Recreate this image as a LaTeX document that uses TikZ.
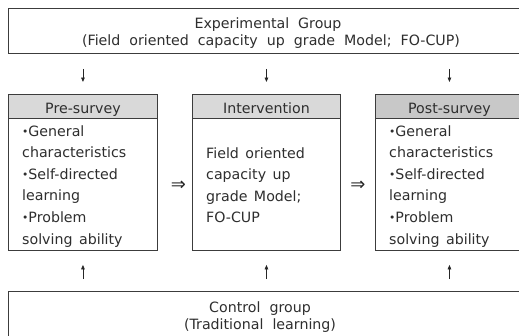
\documentclass[tikz,border=0pt]{standalone}
\usepackage{fontspec}
\setmainfont{DejaVu Sans}
\usetikzlibrary{arrows.meta}
\definecolor{linec}{HTML}{3C3C3C}
\definecolor{txtc}{HTML}{2E2E2E}
\definecolor{hdrA}{HTML}{D9D9D9}
\definecolor{hdrB}{HTML}{C8C8C8}
\newcommand{\bodyfont}{\fontsize{14.2}{21.6}\selectfont\spaceskip=6.5pt plus 1pt minus 1pt\relax}
\newcommand{\groupfont}{\fontsize{14.2}{17.8}\selectfont\spaceskip=9pt plus 1pt minus 1pt\relax}
\newcommand{\bul}{\raisebox{0.6pt}{\scalebox{0.75}{•}}}
\begin{document}
\begin{tikzpicture}[x=1pt,y=-1pt,
  frame/.style={draw=linec, line width=0.9pt, inner sep=0pt, anchor=north west, fill=white},
  hdr/.style={draw=linec, line width=0.9pt, inner sep=0pt, anchor=north west, minimum width=149pt, minimum height=24pt, text height=14pt, text depth=0pt, text=txtc, font=\bodyfont},
  body/.style={inner sep=0pt, anchor=base west, text=txtc, font=\bodyfont},
  grp/.style={inner sep=0pt, anchor=base, text=txtc, font=\groupfont},
  arr/.style={draw=black!85, line width=0.8pt, -{Triangle[length=4.5pt,width=3.6pt]}},
  dblglyph/.style={inner sep=0pt, text=black!85, font=\fontsize{18}{18}\selectfont}
]
\useasboundingbox (0,0) rectangle (519,335);
\clip (0,0) rectangle (519,335);

% group boxes
\node[frame, minimum width=540pt, minimum height=45pt] (top) at (8,8) {};
\node[grp] (toptxt) at (269,28) {\begin{tabular}[t]{@{}c@{}}Experimental Group\hspace*{2pt}\\\hspace*{4pt}(Field oriented capacity up grade Model; FO-CUP)\end{tabular}};

\node[frame, minimum width=540pt, minimum height=60pt] (bot) at (8,291) {};
\node[grp] (bottxt) at (260,312) {\begin{tabular}[t]{@{}c@{}}Control group\\(Traditional learning)\end{tabular}};

% stage boxes
\node[frame, minimum width=149pt, minimum height=156pt] (pre) at (8,94) {};
\node[hdr, fill=hdrA] (prehdr) at (8,94) {Pre-survey};
\node[body] (pretxt) at (22,136) {\begin{tabular}[t]{@{}l@{}}\bul General\\characteristics\\\bul Self-directed\\learning\\\bul Problem\\solving ability\end{tabular}};

\node[frame, minimum width=148pt, minimum height=156pt] (int) at (192,94) {};
\node[hdr, fill=hdrA, minimum width=148pt] (inthdr) at (192,94) {Intervention};
\node[body] (inttxt) at (206,158) {\begin{tabular}[t]{@{}l@{}}Field oriented\\capacity up\\grade Model;\\FO-CUP\end{tabular}};

\node[frame, minimum width=148pt, minimum height=156pt] (post) at (375,94) {};
\node[hdr, fill=hdrB, minimum width=148pt] (posthdr) at (375,94) {Post-survey};
\node[body] (posttxt) at (389,136) {\begin{tabular}[t]{@{}l@{}}\bul General\\characteristics\\\bul Self-directed\\learning\\\bul Problem\\solving ability\end{tabular}};

% down / up arrows
\foreach \b in {pre,int,post}{
  \draw[arr, shorten <=15pt, shorten >=12pt] (top.south -| \b.north) -- (\b.north);
  \draw[arr, shorten <=12pt, shorten >=14pt] (bot.north -| \b.south) -- (\b.south);
}
% double arrows
\path ([yshift=-13pt]pre.east) -- node[dblglyph, pos=0.6] (imp1) {⇒} ([yshift=-13pt]int.west);
\path ([yshift=-13pt]int.east) -- node[dblglyph, pos=0.5] (imp2) {⇒} ([yshift=-13pt]post.west);
\end{tikzpicture}
\end{document}
